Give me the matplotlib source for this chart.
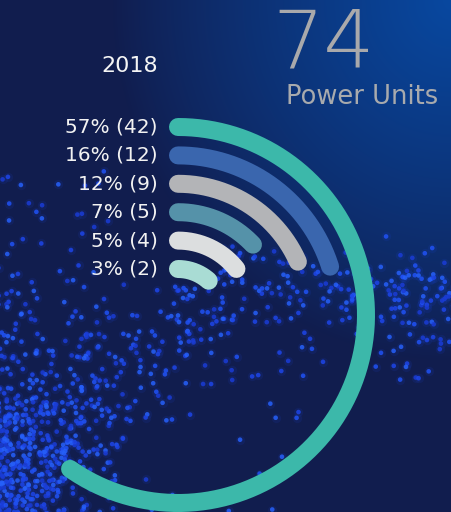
import matplotlib.pyplot as plt
import numpy as np
from matplotlib.colors import to_rgb

# chart data
year = '2018'
total_units = 74
shares = [57, 16, 12, 7, 5, 3]
units = [42, 12, 9, 5, 4, 2]
ring_colors = ['#3CB8AA', '#3A66AE', '#B3B4B7', '#5592A9', '#DCDEDF', '#A9DCD4']

W, H = 452, 512
BG_DARK = '#111D4E'
BG_BLUE = '#0848A0'

fig = plt.figure(figsize=(W / 100, H / 100), dpi=100)
ax = fig.add_axes([0, 0, 1, 1])
ax.set_xlim(0, W)
ax.set_ylim(H, 0)
ax.axis('off')

# background gradient: blue glow top-right fading to navy
yy, xx = np.mgrid[0:H, 0:W]
d = np.sqrt(((W - xx) / 340.0) ** 2 + (yy / 360.0) ** 2)
t = np.clip(1 - d, 0, 1) ** 0.85
c0, c1 = np.array(to_rgb(BG_DARK)), np.array(to_rgb(BG_BLUE))
img = c0[None, None, :] * (1 - t[..., None]) + c1[None, None, :] * t[..., None]
ax.imshow(img, extent=(0, W, H, 0), zorder=0, aspect='auto')

# decorative particle swarm (texture only, not data)
rng = np.random.default_rng(7)
pts = []
# dense cloud lower-left
n = 420
pts.append(np.column_stack([np.abs(rng.normal(0, 60, n)) - 5,
                            H - np.abs(rng.normal(0, 110, n)) + 10]))
# diagonal stream toward the right
n = 430
s = rng.random(n) ** 1.3
px = -10 + s * 470
py = np.where(px < 240, 470 - (px + 10) * 0.72, 290 + (px - 240) * 0.02)
spread = 36 - 14 * s
pts.append(np.column_stack([px + rng.normal(0, 8, n), py + rng.normal(0, 1, n) * spread]))
# sparse dots
n = 45
pts.append(np.column_stack([rng.uniform(0, 300, n), rng.uniform(330, 512, n)]))
n = 30
pts.append(np.column_stack([rng.uniform(0, 110, n), rng.uniform(170, 320, n)]))
n = 40
pts.append(np.column_stack([rng.uniform(300, 452, n), rng.uniform(250, 380, n)]))
P = np.vstack(pts)
dot_cols = rng.choice(['#1D45E8', '#2052F5', '#2660FA', '#1A3CD6'], len(P))
ax.scatter(P[:, 0], P[:, 1], s=45, color='#1E4AF0', alpha=0.10, lw=0, zorder=1)
ax.scatter(P[:, 0], P[:, 1], s=11, c=dot_cols, alpha=0.85, lw=0, zorder=2)

# radial bars: arc length proportional to units, starting at 12 o'clock, clockwise
cx, cy = 178, 315
r_outer, gap = 188, 28.4
px_per_unit = 16.8
lw = 18 * 72 / 100
for i, (u, col) in enumerate(zip(units, ring_colors)):
    r = r_outer - gap * i
    th = np.linspace(0, u * px_per_unit / r, 300)
    ax.plot(cx + r * np.sin(th), cy - r * np.cos(th), color=col, lw=lw,
            solid_capstyle='round', zorder=5)
    ax.text(158, cy - r, f'{shares[i]}% ({u})', ha='right', va='center',
            fontsize=14.5, color='#F2F2F2', zorder=6)

ax.text(158, 66, year, ha='right', va='center', fontsize=16,
        fontweight='medium', color='#F5F5F5', zorder=6)
ax.text(324, 45, str(total_units), ha='center', va='center', fontsize=58,
        family='DejaVu Sans', fontweight=200, color='#A9A9AB', zorder=6)
ax.text(362, 97, 'Power Units', ha='center', va='center', fontsize=18.5,
        color='#A8AAAD', zorder=6)

plt.savefig('out.png', dpi=100, facecolor=BG_DARK)
